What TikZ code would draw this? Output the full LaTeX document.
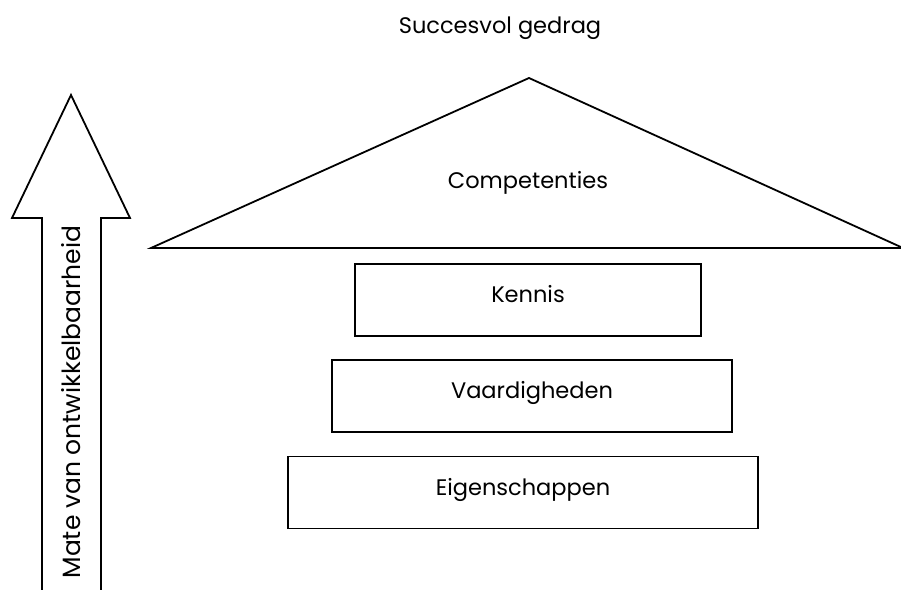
\documentclass[tikz,border=0pt]{standalone}
\usepackage{fontspec}
\setmainfont{Poppins}
\usetikzlibrary{positioning}

\begin{document}
\begin{tikzpicture}[
            x=1pt, y=-1pt,
            line width=1.8pt,
            txt/.style={font=\fontsize{22.5}{27}\selectfont},
            layer/.style={rectangle, draw, txt, inner xsep=0pt, inner ysep=0pt,
                          text height=39pt, text depth=33pt, align=center},
            roof/.style={draw, line join=miter}
        ]
            \useasboundingbox (0,0) rectangle (901,589);

            % roof
            \coordinate (apex) at (529,78);
            \coordinate (eaveL) at (151,248);
            \coordinate (eaveR) at (903,248);
            \draw[roof] (eaveL) -- (apex) -- (eaveR) -- cycle;
            \node[txt] (comp) at (528,183) {Competenties};
            \node[txt] (goal) at (500,28) {Succesvol gedrag};

            % layers
            \node[layer, minimum width=346pt, anchor=north] (kennis) at (528,263) {Kennis};
            \node[layer, minimum width=400pt, below=22pt of kennis, xshift=4pt] (vaard) {Vaardigheden};
            \node[layer, minimum width=470pt, below=23pt of vaard, xshift=-9pt] (eigen) {Eigenschappen};

            % arrow
            \draw[line join=miter] (42,592) -- (42,218) -- (12,218) -- (71,95)
                -- (130,218) -- (101,218) -- (101,592);
            \node[txt, font=\fontsize{25}{30}\selectfont, rotate=90] (mate) at (71,402) {Mate van ontwikkelbaarheid};
        \end{tikzpicture}
\end{document}
